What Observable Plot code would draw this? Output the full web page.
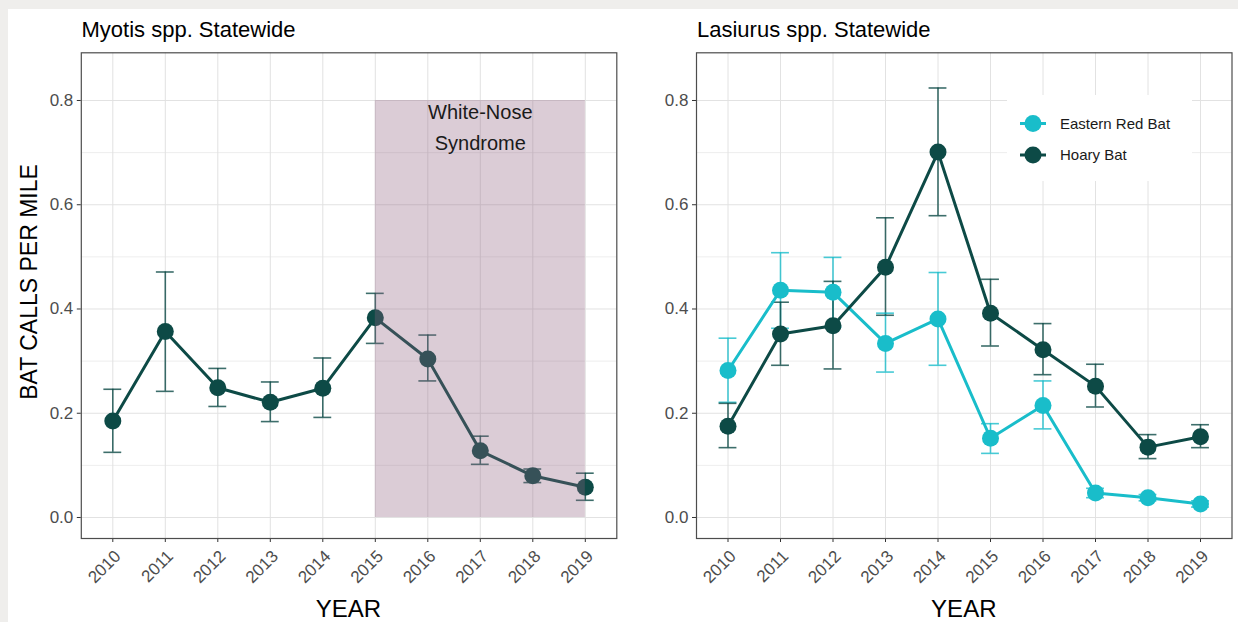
<!DOCTYPE html>
<html>
<head>
<meta charset="utf-8">
<script src="https://cdn.jsdelivr.net/npm/d3@7"></script>
<script src="https://cdn.jsdelivr.net/npm/@observablehq/plot@0.6"></script>
<style>
  html, body { margin: 0; padding: 0; background: #efeeec; }
  #root { position: relative; width: 1238px; height: 622px; background: #efeeec; overflow: hidden;
          font-family: "Liberation Sans", Arial, Helvetica, sans-serif; }
  #paper { position: absolute; left: 8px; top: 9px; width: 1230px; height: 613px; background: #ffffff; }
  .panel { position: absolute; top: 0; }
  #overlay { position: absolute; left: 0; top: 0; }
</style>
</head>
<body>
<div id="root">
  <div id="paper"></div>
  <div id="left" class="panel" style="left:0px"></div>
  <div id="right" class="panel" style="left:620px"></div>
  <svg id="overlay" width="1238" height="622"></svg>
</div>
<script>
// ---------------- data ----------------
const years = [2010, 2011, 2012, 2013, 2014, 2015, 2016, 2017, 2018, 2019];

const myotisMean = [0.185, 0.357, 0.249, 0.221, 0.248, 0.383, 0.304, 0.128, 0.080, 0.058];
const myotisLow  = [0.125, 0.242, 0.213, 0.184, 0.192, 0.334, 0.262, 0.102, 0.067, 0.033];
const myotisHigh = [0.246, 0.471, 0.286, 0.260, 0.306, 0.430, 0.350, 0.156, 0.093, 0.085];

const redMean = [0.282, 0.436, 0.432, 0.334, 0.381, 0.152, 0.215, 0.047, 0.038, 0.026];
const redLow  = [0.221, 0.363, 0.365, 0.279, 0.292, 0.123, 0.170, 0.038, 0.032, 0.020];
const redHigh = [0.344, 0.508, 0.499, 0.392, 0.470, 0.180, 0.262, 0.056, 0.044, 0.032];

const hoaryMean = [0.175, 0.352, 0.368, 0.480, 0.701, 0.392, 0.322, 0.252, 0.135, 0.155];
const hoaryLow  = [0.134, 0.292, 0.285, 0.388, 0.579, 0.329, 0.274, 0.212, 0.113, 0.134];
const hoaryHigh = [0.219, 0.413, 0.453, 0.575, 0.824, 0.457, 0.372, 0.294, 0.159, 0.178];

const seriesNames  = ["Eastern Red Bat", "Hoary Bat"];
const seriesColors = ["#19bdca", "#0d4a46"];
const myotisColor  = "#0d4a46";

const yTicks      = [0, 0.2, 0.4, 0.6, 0.8];
const yMinorTicks = [0.1, 0.3, 0.5, 0.7];

const wnsPeriod = [2015, 2019];
const wnsRange  = [0, 0.8];
const wnsLabel  = ["White-Nose", "Syndrome"];

const panelTitles = ["Myotis spp. Statewide", "Lasiurus spp. Statewide"];
const xTitle = "YEAR";
const yTitle = "BAT CALLS PER MILE";

// ---------------- tables ----------------
const myotisRows = years.map((year, i) => ({year, mean: myotisMean[i], low: myotisLow[i], high: myotisHigh[i]}));
const lasiurusRows = [
  ...years.map((year, i) => ({series: seriesNames[0], year, mean: redMean[i], low: redLow[i], high: redHigh[i]})),
  ...years.map((year, i) => ({series: seriesNames[1], year, mean: hoaryMean[i], low: hoaryLow[i], high: hoaryHigh[i]}))
];

// ---------------- shared style ----------------
const FONT = "'Liberation Sans', Arial, Helvetica, sans-serif";
const xDomain = [2009.4, 2019.6];
const yDomain = [-0.0403, 0.8915];
const capHalf = 0.17;   // half width of the error-bar caps, in years
const H = 622;

function baseMarks() {
  return [
    Plot.gridY(yMinorTicks, {stroke: "#eeeeee", strokeOpacity: 1, strokeWidth: 1}),
    Plot.gridY(yTicks, {stroke: "#e2e2e2", strokeOpacity: 1, strokeWidth: 1}),
    Plot.gridX(years, {stroke: "#e2e2e2", strokeOpacity: 1, strokeWidth: 1}),
    Plot.axisY({ticks: yTicks, tickFormat: d3.format(".1f"), tickSize: 4, tickPadding: 4,
                fontSize: 17, fill: "#4d4d4d", stroke: "#333", label: null}),
    // tick marks only
    Plot.axisX({ticks: years, tickFormat: () => "", tickSize: 4, stroke: "#333", label: null}),
    // rotated tick labels only
    Plot.axisX({ticks: years, tickFormat: d => String(d), tickRotate: -45, tickSize: 0, tickPadding: 15,
                fontSize: 17, fill: "#4d4d4d", label: null, dx: 5})
  ];
}

function errorMarks(rows, strokeOpt) {
  const common = {stroke: strokeOpt, strokeWidth: 1.6, strokeOpacity: 0.8};
  return [
    Plot.ruleX(rows, {x: "year", y1: "low", y2: "high", ...common}),
    Plot.ruleY(rows, {y: "low", x1: d => d.year - capHalf, x2: d => d.year + capHalf, ...common}),
    Plot.ruleY(rows, {y: "high", x1: d => d.year - capHalf, x2: d => d.year + capHalf, ...common})
  ];
}

// ---------------- left panel: Myotis ----------------
const left = Plot.plot({
  width: 620, height: H,
  marginLeft: 80.8, marginRight: 3.7, marginTop: 52.3, marginBottom: 84,
  style: {background: "transparent", fontFamily: FONT, overflow: "visible"},
  x: {domain: xDomain, axis: null},
  y: {domain: yDomain, axis: null},
  marks: [
    ...baseMarks(),
    ...errorMarks(myotisRows, myotisColor),
    Plot.line(myotisRows, {x: "year", y: "mean", stroke: myotisColor, strokeWidth: 3}),
    Plot.dot(myotisRows, {x: "year", y: "mean", fill: myotisColor, r: 8.5}),
    Plot.rect([wnsPeriod], {x1: d => d[0], x2: d => d[1], y1: () => wnsRange[0], y2: () => wnsRange[1],
                            fill: "#8f5f80", fillOpacity: 0.32}),
    Plot.text([wnsLabel.join("\n")], {x: () => d3.mean(wnsPeriod), y: () => wnsRange[1], text: d => d,
                            lineAnchor: "top", dy: -3, lineHeight: 1.55, fontSize: 20, fill: "#1a1a1a"}),
    Plot.frame({stroke: "#4d4d4d", strokeWidth: 1.2})
  ]
});
document.getElementById("left").appendChild(left);

// ---------------- right panel: Lasiurus ----------------
const right = Plot.plot({
  width: 618, height: H,
  marginLeft: 76, marginRight: 6.5, marginTop: 52.3, marginBottom: 84,
  style: {background: "transparent", fontFamily: FONT, overflow: "visible"},
  x: {domain: xDomain, axis: null},
  y: {domain: yDomain, axis: null},
  color: {domain: seriesNames, range: seriesColors},
  marks: [
    ...baseMarks(),
    ...errorMarks(lasiurusRows, "series"),
    Plot.line(lasiurusRows, {x: "year", y: "mean", z: "series", stroke: "series", strokeWidth: 3}),
    Plot.dot(lasiurusRows, {x: "year", y: "mean", fill: "series", r: 8.5}),
    Plot.frame({stroke: "#4d4d4d", strokeWidth: 1.2})
  ]
});
document.getElementById("right").appendChild(right);

// ---------------- titles, axis titles, legend ----------------
const ov = d3.select("#overlay").style("font-family", FONT);
ov.append("text").attr("x", 81.5).attr("y", 37).attr("font-size", 22).attr("fill", "#000").text(panelTitles[0]);
ov.append("text").attr("x", 697).attr("y", 37).attr("font-size", 22).attr("fill", "#000").text(panelTitles[1]);
ov.append("text").attr("x", 348.5).attr("y", 617).attr("font-size", 24).attr("text-anchor", "middle").attr("fill", "#000").text(xTitle);
ov.append("text").attr("x", 963.8).attr("y", 617).attr("font-size", 24).attr("text-anchor", "middle").attr("fill", "#000").text(xTitle);
ov.append("text").attr("transform", "translate(37,282) rotate(-90)").attr("font-size", 23)
  .attr("text-anchor", "middle").attr("fill", "#000").text(yTitle);

// legend (inside right panel)
const lg = ov.append("g");
lg.append("rect").attr("x", 1007).attr("y", 95).attr("width", 185).attr("height", 86).attr("fill", "#fff");
seriesNames.forEach((name, i) => {
  const cy = 123.5 + i * 31.5;
  lg.append("line").attr("x1", 1020).attr("x2", 1046).attr("y1", cy).attr("y2", cy)
    .attr("stroke", seriesColors[i]).attr("stroke-width", 3);
  lg.append("circle").attr("cx", 1033).attr("cy", cy).attr("r", 8.5).attr("fill", seriesColors[i]);
  lg.append("text").attr("x", 1060).attr("y", cy + 5.3).attr("font-size", 15).attr("fill", "#1a1a1a").text(name);
});
</script>
</body>
</html>
